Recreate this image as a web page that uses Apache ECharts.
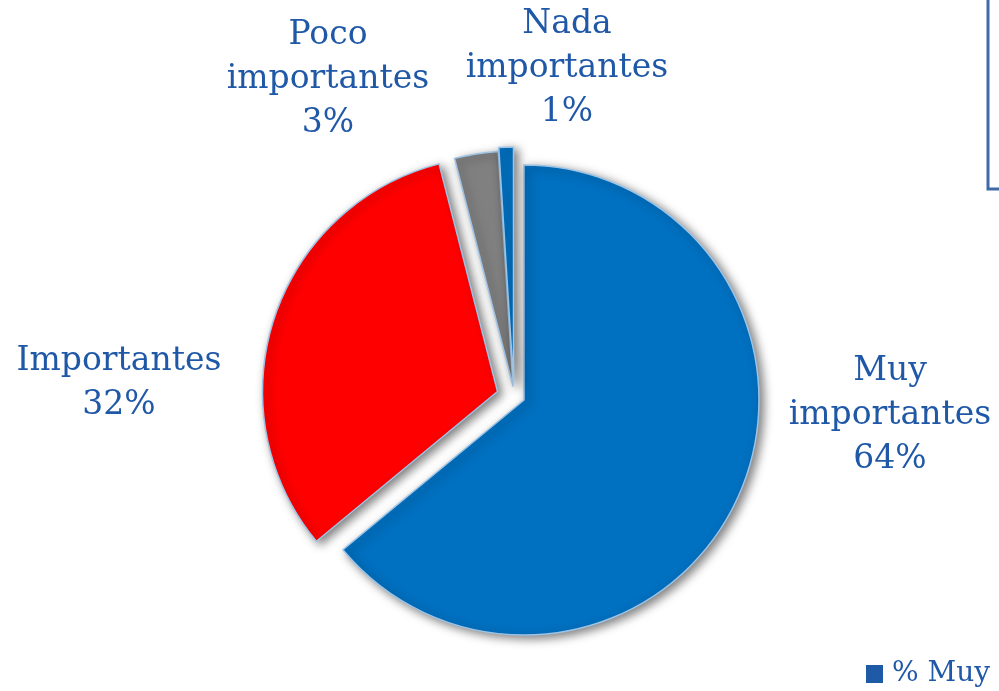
<!DOCTYPE html>
<html>
<head>
<meta charset="utf-8">
<script src="https://cdn.jsdelivr.net/npm/echarts@6/dist/echarts.min.js"></script>
<style>html,body{margin:0;padding:0;background:#fff}#c{width:999px;height:691px}</style>
</head>
<body>
<div id="c"></div>
<script>
const categories = ['Muy importantes', 'Importantes', 'Poco importantes', 'Nada importantes'];
const values = [64, 32, 3, 1];
const legendLabels = ['% Muy'];

const sliceColors = ['#0070C0', '#FF0000', '#808080', '#0070C0'];
const centers = [[524, 400], [497.5, 391.5], [513, 386], [513.5, 382]];
const labelPos = [[890, 415], [119, 383], [328, 79], [567, 68]];
const labelColor = '#2058A8';
const fontFam = '"DejaVu Serif", serif';

const series = categories.map(function (_, k) {
  return {
    type: 'pie',
    name: k === 0 ? legendLabels[0] : 'slice' + k,
    radius: 235,
    center: centers[k],
    startAngle: 90,
    clockwise: true,
    animation: false,
    silent: true,
    avoidLabelOverlap: false,
    emphasis: { disabled: true },
    labelLine: { show: false },
    data: categories.map(function (name, i) {
      const own = i === k;
      return {
        name: name,
        value: values[i],
        itemStyle: own ? {
          color: sliceColors[i],
          borderColor: '#9DC3E6',
          borderWidth: 1.5,
          shadowBlur: 10,
          shadowColor: 'rgba(0,0,0,0.5)',
          shadowOffsetX: 4,
          shadowOffsetY: 3
        } : { color: 'rgba(0,0,0,0)', borderWidth: 0 },
        label: own ? {
          show: true,
          position: 'outside',
          formatter: function (p) {
            const nm = p.name === 'Importantes' ? p.name : p.name.replace(' ', '\n');
            return nm + '\n' + p.value + '%';
          },
          color: labelColor,
          fontFamily: fontFam,
          fontSize: 33,
          lineHeight: 44,
          align: 'center'
        } : { show: false }
      };
    }),
    labelLayout: function (p) {
      return { x: labelPos[p.dataIndex][0], y: labelPos[p.dataIndex][1], align: 'center', verticalAlign: 'middle' };
    }
  };
});

const chart = echarts.init(document.getElementById('c'), null, { renderer: 'canvas' });
chart.setOption({
  backgroundColor: '#ffffff',
  legend: {
    data: [{ name: legendLabels[0], icon: 'rect', itemStyle: { color: '#1F5AA6' } }],
    left: 866,
    top: 660,
    padding: 0,
    itemWidth: 17,
    itemHeight: 18,
    itemGap: 8,
    textStyle: { color: labelColor, fontFamily: fontFam, fontSize: 28, padding: [0, 0, 0, 4] },
    selectedMode: false
  },
  graphic: [{
    type: 'polyline',
    shape: { points: [[988, -2], [988, 189], [1002, 189]] },
    style: { stroke: '#3F6AA5', lineWidth: 3, fill: null }
  }],
  series: series
});
</script>
</body>
</html>
